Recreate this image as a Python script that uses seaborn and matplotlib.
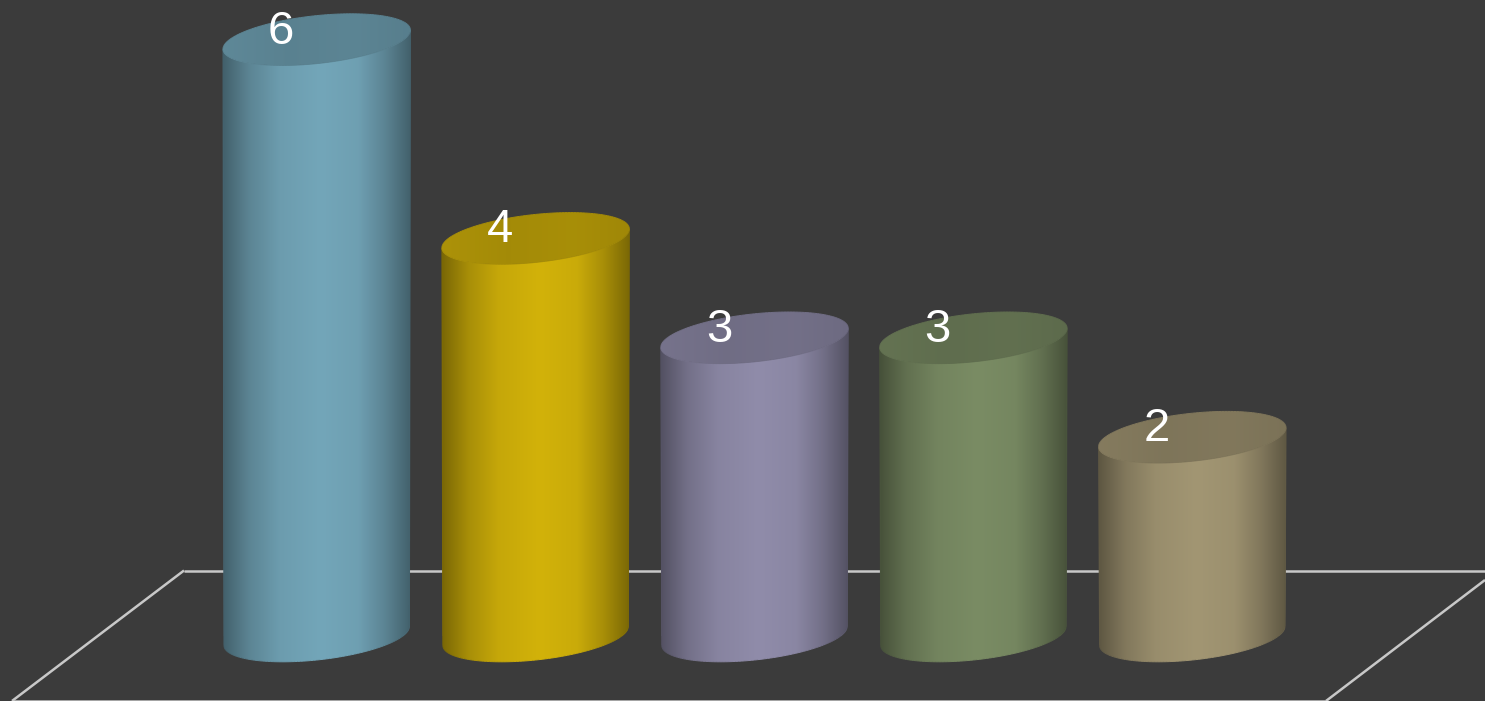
import numpy as np
import pandas as pd
import matplotlib
matplotlib.use("Agg")
import matplotlib.pyplot as plt
from matplotlib.collections import LineCollection
from matplotlib.colors import LinearSegmentedColormap, to_rgb
from matplotlib.path import Path
import seaborn as sns

categories = ["A", "B", "C", "D", "E"]
values = [6, 4, 3, 3, 2]
labels = ["6", "4", "3", "3", "2"]
bar_colors = ["#73A6B9", "#D2B20A", "#908CAA", "#7A8C64", "#A29673"]

W, H = 1485, 701
BG = "#3B3B3B"
LINE = "#C8C8C8"
STEP_X = 218.9   # pixels between categories
STEP_Y = 99.4    # pixels per unit
X0 = 316.7       # pixel of first category
Y0 = 636.0       # pixel of value 0

sns.set_theme(style="white", rc={"figure.facecolor": BG, "axes.facecolor": BG})
plt.rcParams["font.family"] = ["Liberation Sans", "DejaVu Sans"]

fig = plt.figure(figsize=(W / 100, H / 100), dpi=100, facecolor=BG)
ax = fig.add_axes([0, 0, 1, 1])

df = pd.DataFrame({"cat": categories, "val": values})
sns.barplot(data=df, x="cat", y="val", hue="cat", palette=bar_colors, legend=False,
            width=187.5 / STEP_X, saturation=1, linewidth=0, ax=ax)

xlim = (-X0 / STEP_X, (W - X0) / STEP_X)
ylim = ((Y0 - H) / STEP_Y, Y0 / STEP_Y)


def px(x, y):
    # floor outline is given in figure pixels
    return x / W, 1 - y / H


# floor outline
for a, b in [((184, 570.5), (1485, 570.5)), ((184, 570.5), (12, 701)),
             ((12, 700.8), (1326, 700.8)), ((1485, 580), (1326, 701))]:
    xa, ya = px(*a)
    xb, yb = px(*b)
    ax.plot([xa, xb], [ya, yb], color=LINE, lw=1.8, transform=ax.transAxes, zorder=0.5,
            solid_capstyle="butt")

# shading across a cylinder, left to right
body_stops = [(0, 0.58), (0.05, 0.66), (0.14, 0.80), (0.30, 0.94), (0.52, 1.0),
              (0.72, 0.96), (0.86, 0.80), (0.95, 0.66), (1, 0.58)]
cap_stops = [(0, 0.82), (0.35, 0.78), (0.7, 0.80), (1, 0.76)]
b_semi = 24 / STEP_Y   # ellipse height
shear = 9.5 / STEP_Y   # tilt, right side up


def shade(color, stops):
    rgb = np.array(to_rgb(color))
    return LinearSegmentedColormap.from_list("s", [(p, tuple(rgb * f)) for p, f in stops])


def ellipse(cx, cy, a, tt):
    return cx + a * np.cos(tt), cy + b_semi * np.sin(tt) + shear * np.cos(tt)


def soft_edge(xs, ys, cmap, left, right, z):
    # image clipping is jagged, so run a thin line of the same shade along the edge
    pts = np.column_stack([xs, ys])
    segs = np.stack([pts[:-1], pts[1:]], axis=1)
    f = (xs[:-1] - left) / (right - left)
    ax.add_collection(LineCollection(segs, colors=cmap(np.clip(f, 0, 1)), linewidths=0.7, zorder=z),
                      autolim=False)


grad = np.linspace(0, 1, 256).reshape(1, -1)
front = np.linspace(np.pi, 2 * np.pi, 91)
whole = np.linspace(0, 2 * np.pi, 181)
for bar, val, lab, col in zip(ax.patches, values, labels, bar_colors):
    cx = bar.get_x() + bar.get_width() / 2
    a_top = bar.get_width() / 2
    a_bot = a_top - 1.0 / STEP_X
    left, right = cx - a_top, cx + a_top
    body_map = shade(col, body_stops)
    cap_map = shade(col, cap_stops)

    bx, by = ellipse(cx, 0, a_bot, front)
    tx, ty = ellipse(cx, val, a_top, front)
    body = Path(np.column_stack([np.r_[bx, tx[::-1]], np.r_[by, ty[::-1]]]))
    im = ax.imshow(grad, cmap=body_map, extent=(left, right, -1, val + 1),
                   aspect="auto", zorder=2, interpolation="bilinear", vmin=0, vmax=1)
    im.set_clip_path(body, transform=ax.transData)
    bar.set_clip_path(body, transform=ax.transData)
    soft_edge(np.r_[tx[0], bx, tx[-1]], np.r_[ty[0], by, ty[-1]], body_map, left, right, 2.1)

    ex, ey = ellipse(cx, val, a_top, whole)
    cap_im = ax.imshow(grad, cmap=cap_map, extent=(left, right, val - 1, val + 1),
                       aspect="auto", zorder=3, interpolation="bilinear", vmin=0, vmax=1)
    cap_im.set_clip_path(Path(np.column_stack([ex, ey])), transform=ax.transData)
    soft_edge(ex, ey, cap_map, left, right, 3.1)

    ax.text(cx - 35.5 / STEP_X, val + 8 / STEP_Y, lab, color="white", fontsize=34,
            ha="center", va="center", zorder=4)

ax.set_xlim(*xlim)
ax.set_ylim(*ylim)
ax.axis("off")
fig.savefig("out.png", dpi=100, facecolor=BG)
